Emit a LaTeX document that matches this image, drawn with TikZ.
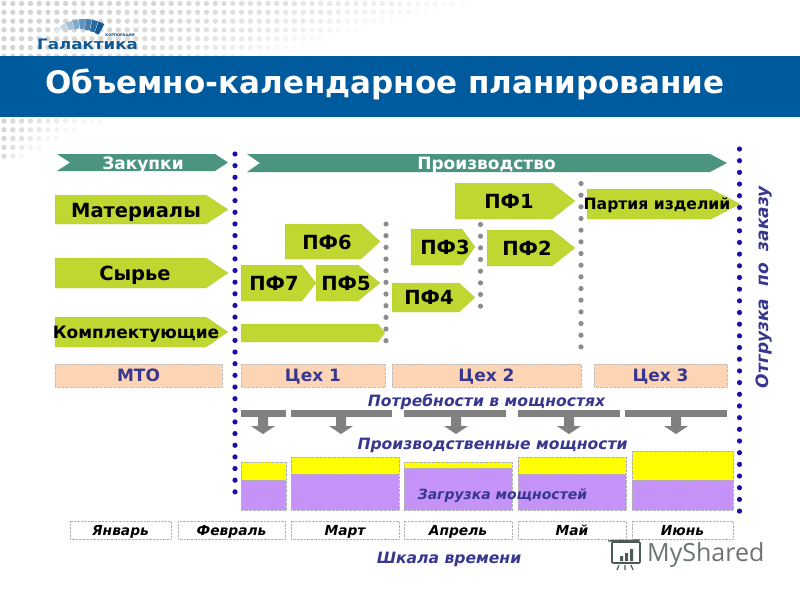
\documentclass[tikz,border=0pt]{standalone}
\usepackage{fontspec}
\setmainfont{DejaVu Sans}
\newfontfamily\wmfont{Open Sans}
\usetikzlibrary{calc}
\definecolor{bandblue}{HTML}{005B9E}
\definecolor{tealbar}{HTML}{4A9480}
\definecolor{limefill}{HTML}{BFD730}
\definecolor{peach}{HTML}{FDD5B5}
\definecolor{inkblue}{HTML}{37378F}
\definecolor{dotblue}{HTML}{1C0FA8}
\definecolor{greydot}{HTML}{8C8C8C}
\definecolor{greybar}{HTML}{808080}
\definecolor{lilac}{HTML}{C593F7}
\definecolor{yellowfill}{HTML}{FFFF00}
\definecolor{logoblue}{HTML}{0F5A96}
\definecolor{wmgrey}{HTML}{6A7470}
\definecolor{wmdark}{HTML}{4C5A56}
\tikzset{
  x=1pt,y=-1pt,
  capbox/.style={text height=.73em,text depth=0pt,inner sep=0pt},
  limeshape/.style={fill=limefill,draw=limefill!70!black,densely dotted,line width=.3pt},
  limetext/.style={capbox,node font=\bfseries\fontsize{19.5}{19.5}\selectfont,text=black},
  tealtext/.style={capbox,node font=\bfseries\fontsize{17}{17}\selectfont,text=white},
  bluelabel/.style={capbox,node font=\bfseries\itshape\fontsize{15.6}{15.6}\selectfont,text=inkblue},
  monthbox/.style={fill=white,draw=black!30,densely dotted,line width=.4pt},
  monthtext/.style={capbox,node font=\bfseries\itshape\fontsize{13.8}{13.8}\selectfont,text=black},
  capy/.style={fill=yellowfill,draw=black!30,densely dotted,line width=.3pt},
  capl/.style={fill=lilac,draw=black!30,densely dotted,line width=.3pt},
}
% name, x1, y1, x2, y2, shoulder x, text, text cx, text cy
\newcommand{\limearrow}[9]{%
  \path[limeshape] (#2,#3) -- (#6,#3) -- (#4,{(#3+#5)/2}) -- (#6,#5) -- (#2,#5) -- cycle;
  \node[limetext] (#1) at (#8,#9) {#7};}
\newcommand{\greyarrow}[1]{%
  \fill[greybar] (#1-5,417) -- (#1+5,417) -- (#1+5,426) -- (#1+12,426) -- (#1,434) -- (#1-12,426) -- (#1-5,426) -- cycle;}
% x1 x2 y1 y2 name text
\newcommand{\peachnode}[6]{%
  \path[fill=peach,draw=black!25,densely dotted,line width=.3pt] (#1,#3) rectangle (#2,#4);
  \node[capbox,node font=\bfseries\fontsize{17}{17}\selectfont,text=inkblue] (#5) at ({(#1+#2)/2},{(#3+#4)/2}) {#6};}
\newcommand{\monthnode}[4]{%
  \path[monthbox] (#1,521) rectangle (#2,539);
  \node[monthtext] (#3) at ({(#1+#2)/2},530.5) {#4};}
\begin{document}
\begin{tikzpicture}
\useasboundingbox (0,0) rectangle (800,600);
\fill[white] (0,0) rectangle (800,600);
% halftone background
\foreach \r in {0,...,6}{
  \foreach \c in {0,...,58}{
    \pgfmathsetmacro{\xx}{4+8.8*\c}
    \pgfmathsetmacro{\yy}{3.5+8.8*\r}
    \pgfmathsetmacro{\op}{max(0,0.17*(1-(\xx/(480-35*\r))^2))}
    \fill[black,opacity=\op] (\xx,\yy) circle (2.7);
  }
}
\foreach \r in {0,...,4}{
  \pgfmathsetmacro{\yy}{121+8.8*\r}
  \pgfmathsetmacro{\nc}{int(11-2.2*\r)}
  \foreach \c in {0,...,\nc}{
    \pgfmathsetmacro{\xx}{4+8.8*\c}
    \pgfmathsetmacro{\op}{max(0.03,0.17*(1-\xx/(\nc*8.8+8)))}
    \fill[black,opacity=\op] (\xx,\yy) circle (2.7);
  }
}
% logo
\foreach \a/\c/\ri in {133/14/39.5,124/24/37,115/38/35,106/52/34,97/65/33,88/78/32,79/90/31.5,70/100/31}{
  \pgfmathsetmacro{\bb}{\a-8.2}
  \fill[logoblue!\c!white] ({84+43*cos(\a)},{62-43*sin(\a)}) -- ({84+43*cos((\a+\bb)/2)},{62-43*sin((\a+\bb)/2)}) -- ({84+43*cos(\bb)},{62-43*sin(\bb)}) -- ({84+\ri*cos(\bb)},{62-\ri*sin(\bb)}) -- ({84+\ri*cos(\a)},{62-\ri*sin(\a)}) -- cycle;
}
\node[capbox,node font=\bfseries\fontsize{14.5}{14.5}\selectfont,text=logoblue,anchor=west,xscale=1.15] (logo) at (37,44) {Галактика};
\node[node font=\bfseries\fontsize{3.6}{3.6}\selectfont,text=logoblue!80!black,inner sep=0pt] (logosub) at (120,35) {КОРПОРАЦИЯ};
% band
\fill[bandblue] (0,56) rectangle (800,117);
\node[capbox,node font=\bfseries\fontsize{31}{31}\selectfont,text=white,anchor=west] (title) at (45,82) {Объемно-календарное планирование};
% teal header arrows
\fill[tealbar] (57,154) -- (215,154) -- (228,162.5) -- (215,171) -- (57,171) -- (70,162.5) -- cycle;
\node[tealtext] (zak) at (143,163) {Закупки};
\fill[tealbar] (247,154) -- (710,154) -- (727,163) -- (710,172) -- (247,172) -- (260,163) -- cycle;
\node[tealtext] (pro) at (486.5,163) {Производство};
% dots
\foreach \i in {0,...,29} \fill[dotblue] (235,{154+11.65*\i}) circle (2.6);
\foreach \i in {0,...,31} \fill[dotblue] (739.5,{149+11.68*\i}) circle (2.6);
\foreach \i in {0,...,10} \fill[greydot] (386,{224+11.67*\i}) circle (2.6);
\foreach \i in {0,...,7} \fill[greydot] (480.5,{224.5+11.67*\i}) circle (2.6);
\foreach \i in {0,...,14} \fill[greydot] (581,{183.5+11.67*\i}) circle (2.6);
% lime arrows
\limearrow{mat}{55}{195}{228}{224}{206}{Материалы}{136}{210}
\limearrow{syr}{55}{258}{228}{288}{206}{Сырье}{135}{273}
\limearrow{kom}{55}{317}{228}{347}{206}{}{136}{332}
\node[capbox,node font=\bfseries\fontsize{17}{17}\selectfont,text=black] (komt) at (136,332) {Комплектующие};
\limearrow{pf6}{285}{224}{380}{259}{361}{ПФ6}{327}{242}
\limearrow{pf7}{241}{265}{316}{301}{302}{ПФ7}{274}{283}
\limearrow{pf5}{316}{265}{380}{301}{358}{ПФ5}{346}{283}
\limearrow{emp}{241}{324}{385}{342}{378}{}{300}{333}
\limearrow{pf1}{455}{183}{575}{219}{552}{ПФ1}{509}{201}
\limearrow{pf3}{411}{229}{475}{265}{462}{ПФ3}{445}{247}
\limearrow{pf2}{487}{230}{575}{266}{552}{ПФ2}{527}{248}
\limearrow{pf4}{392}{283}{475}{312}{459}{ПФ4}{429}{297}
\limearrow{par}{587}{189}{740}{219}{711}{}{657}{204}
\node[capbox,node font=\bfseries\fontsize{15.6}{15.6}\selectfont,text=black] (part) at (657,204) {Партия изделий};
% peach bars
\peachnode{55}{222}{364}{387}{mto}{МТО}
\peachnode{241}{385}{364}{387}{c1}{Цех 1}
\peachnode{392}{581}{364}{387}{c2}{Цех 2}
\peachnode{594}{727}{364}{387}{c3}{Цех 3}
% needs
\node[bluelabel] (need) at (486.5,401) {Потребности в мощностях};
\fill[greybar] (241,410) rectangle (286,417);
\fill[greybar] (291,410) rectangle (392,417);
\fill[greybar] (404,410) rectangle (506,417);
\fill[greybar] (518,410) rectangle (620,417);
\fill[greybar] (625,410) rectangle (727,417);
\greyarrow{263}\greyarrow{341}\greyarrow{456}\greyarrow{569}\greyarrow{676}
\node[bluelabel] (cap) at (492.5,444) {Производственные мощности};
% capacities
\foreach \a/\b/\t/\m in {241/286/462/480,291/399/457/474,404/512/462/468,518/626/457/474,632/733/451/480}{
  \path[capy] (\a,\t) rectangle (\b,\m);
  \path[capl] (\a,\m) rectangle (\b,510);
}
\node[capbox,node font=\itshape\bfseries\fontsize{14}{14}\selectfont,text=inkblue] (load) at (502.5,494) {Загрузка мощностей};
% months
\monthnode{70}{171}{m1}{Январь}
\monthnode{178}{285}{m2}{Февраль}
\monthnode{291}{399}{m3}{Март}
\monthnode{404}{512}{m4}{Апрель}
\monthnode{518}{626}{m5}{Май}
\monthnode{632}{733}{m6}{Июнь}
\node[bluelabel] (scale) at (449,558) {Шкала времени};
% side label
\node[capbox,node font=\bfseries\itshape\fontsize{17}{17}\selectfont,text=inkblue,rotate=90] (ship) at (762,287) {Отгрузка\hspace{12pt}по\hspace{12pt}заказу};
% watermark
\node[node font=\wmfont\fontsize{25}{25}\selectfont,text=wmgrey,inner sep=0pt,anchor=west] (wm) at (647,555) {MyShared};
\draw[wmdark,line width=1.6pt,rounded corners=1pt] (612,542) rectangle (640,563);
\draw[wmdark,line width=1.4pt] (608,541) -- (640,540);
\fill[wmdark] (620,556) rectangle (623,561) (625,553) rectangle (628,561) (630,549) rectangle (633,561);
\draw[wmdark,line width=1.2pt] (625,565) -- (625,570) (619,565) -- (617,570) (631,565) -- (633,570);
\end{tikzpicture}
\end{document}
